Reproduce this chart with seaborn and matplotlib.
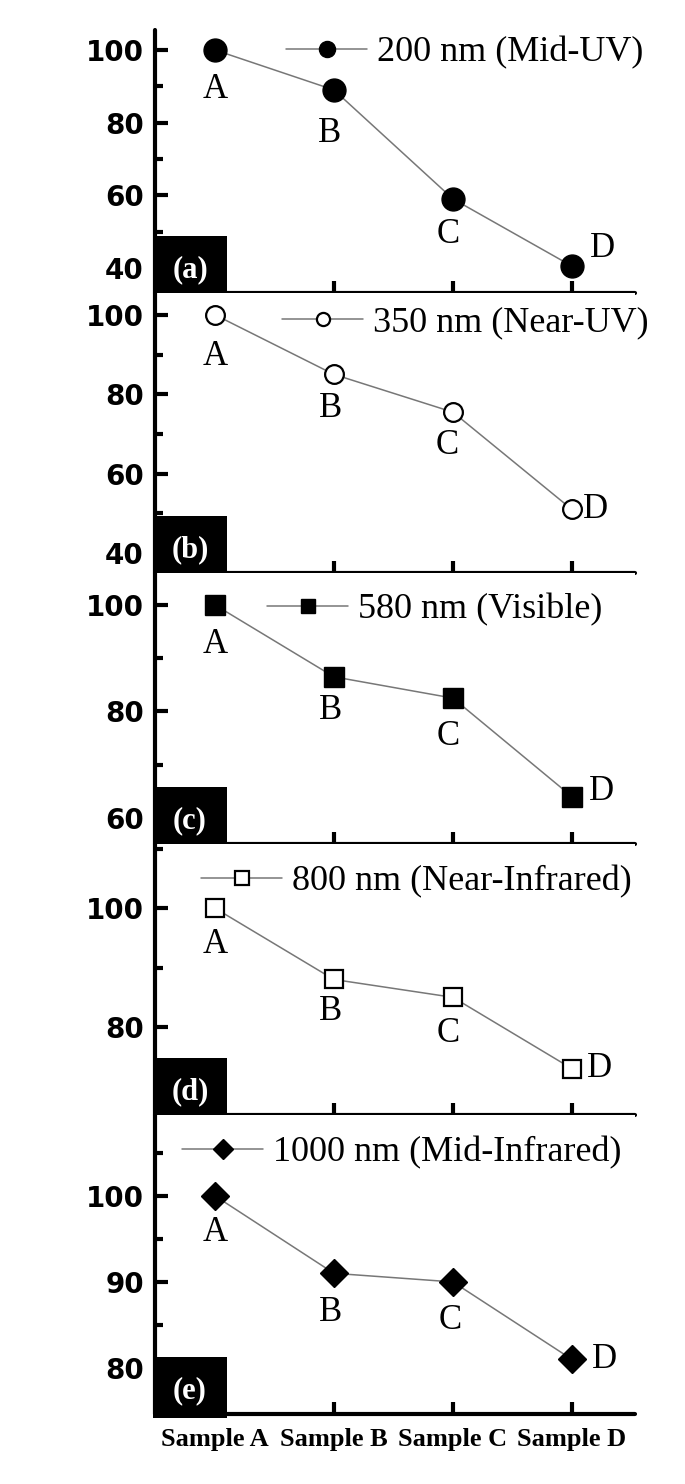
import matplotlib
matplotlib.use("Agg")
import matplotlib.pyplot as plt
import seaborn as sns
import numpy as np
from matplotlib.patches import Rectangle
from matplotlib.ticker import FixedLocator, MultipleLocator

# ---------------- data ----------------
samples = ["Sample A", "Sample B", "Sample C", "Sample D"]
point_labels = ["A", "B", "C", "D"]
panel_tags = ["(a)", "(b)", "(c)", "(d)", "(e)"]
series_names = ["200 nm (Mid-UV)", "350 nm (Near-UV)", "580 nm (Visible)",
                "800 nm (Near-Infrared)", "1000 nm (Mid-Infrared)"]
vals_200 = [100, 89, 59, 40.5]
vals_350 = [100, 85, 75.5, 51]
vals_580 = [100, 86.5, 82.5, 64]
vals_800 = [100, 88, 85, 73]
vals_1000 = [100, 91, 90, 81]
yticks_a = [40, 60, 80, 100]
yticks_b = [40, 60, 80, 100]
yticks_c = [60, 80, 100]
yticks_d = [80, 100]
yticks_e = [80, 90, 100]
series_vals = [vals_200, vals_350, vals_580, vals_800, vals_1000]
series_ticks = [yticks_a, yticks_b, yticks_c, yticks_d, yticks_e]

# ---------------- layout / style ----------------
W_PX, H_PX = 685, 1484
SPINE_L, SPINE_R = 155, 635
panels = [
    # top px, bottom px, ylim, minor step, marker, filled, msize, legend (x px, y px)
    dict(top=30, bot=293, ylim=(33.1, 105.5), minor=10, marker="o", filled=True, ms=16.5, leg=(286, 53)),
    dict(top=293, bot=573, ylim=(35.0, 105.5), minor=10, marker="o", filled=False, ms=13.5, leg=(282, 323)),
    dict(top=573, bot=844, ylim=(55.1, 106.0), minor=10, marker="s", filled=True, ms=14.5, leg=(267, 610)),
    dict(top=844, bot=1115, ylim=(65.2, 110.8), minor=10, marker="s", filled=False, ms=13.5, leg=(201, 882)),
    dict(top=1115, bot=1414, ylim=(74.65, 109.4), minor=5, marker="D", filled=True, ms=14, leg=(182, 1153)),
]
# label offsets in pixels (dx, dy up)
label_offsets = [
    [(0, -40), (-4, -44), (-5, -36), (31, 18)],
    [(0, -42), (-3, -34), (-6, -33), (24, 0)],
    [(0, -40), (-3, -34), (-5, -38), (30, 5)],
    [(0, -36), (-3, -32), (-5, -36), (28, 0)],
    [(0, -37), (-3, -39), (-3, -39), (33, 0)],
]
PX2PT = 72 / 100.0

sns.set_style("ticks")
plt.rcParams["font.family"] = ["DejaVu Sans"]
plt.rcParams["text.color"] = "black"
plt.rcParams["xtick.color"] = "black"
plt.rcParams["ytick.color"] = "black"
plt.rcParams["xtick.labelcolor"] = "black"
plt.rcParams["ytick.labelcolor"] = "black"
SERIF = "Liberation Serif"

fig = plt.figure(figsize=(W_PX / 100, H_PX / 100), dpi=100)
x_lo = -0.504
x_hi = 3.53

for i, p in enumerate(panels):
    left = SPINE_L / W_PX
    width = (SPINE_R - SPINE_L) / W_PX
    h_px = p["bot"] - p["top"]
    ax = fig.add_axes([left, 1 - p["bot"] / H_PX, width, h_px / H_PX])
    vals = series_vals[i]
    face = "black" if p["filled"] else "white"
    mew = 1.0 if p["filled"] else 1.6
    sns.lineplot(x=samples, y=vals, ax=ax, color="#777777", linewidth=1.1,
                 marker=p["marker"], markersize=p["ms"], markerfacecolor=face,
                 markeredgecolor="black", markeredgewidth=mew,
                 label=series_names[i], legend=False, sort=False, zorder=3)
    ax.set_xlim(x_lo, x_hi)
    ax.set_ylim(*p["ylim"])
    ax.set_xlabel("")
    ax.set_ylabel("")
    ax.set_xticks(range(len(samples)))
    ax.yaxis.set_major_locator(FixedLocator(series_ticks[i]))
    ax.yaxis.set_minor_locator(MultipleLocator(p["minor"]))
    for s in ["top", "right"]:
        ax.spines[s].set_visible(False)
    for s in ["left", "bottom"]:
        ax.spines[s].set_linewidth(3)
        ax.spines[s].set_color("black")
        ax.spines[s].set_capstyle("round")
    ax.tick_params(axis="both", which="major", direction="in", length=9, width=3, color="black")
    ax.tick_params(axis="y", which="minor", direction="in", length=5.5, width=3, color="black")
    ax.tick_params(axis="y", which="major", labelsize=20, pad=8, labelcolor="black")
    for t in ax.get_yticklabels():
        t.set_fontfamily("DejaVu Sans")
        t.set_fontweight("bold")
    last = i == len(panels) - 1
    if last:
        ax.set_xticklabels(samples)
        ax.tick_params(axis="x", labelsize=19, pad=10, labelcolor="black")
        for t in ax.get_xticklabels():
            t.set_fontfamily(SERIF)
            t.set_fontweight("bold")
    else:
        ax.tick_params(axis="x", labelbottom=False)

    # point letters
    for j, lab in enumerate(point_labels):
        dx, dy = label_offsets[i][j]
        ax.annotate(lab, xy=(j, vals[j]), xytext=(dx * PX2PT, dy * PX2PT),
                    textcoords="offset points", ha="center", va="center",
                    fontsize=25, family=SERIF, color="black", zorder=4)

    # legend
    lx, ly = p["leg"]
    xf = (lx - SPINE_L) / (SPINE_R - SPINE_L)
    yf = (p["bot"] - ly) / h_px
    leg = ax.legend(loc="center left", bbox_to_anchor=(xf, yf), frameon=False,
                    prop={"family": SERIF, "size": 26}, handlelength=2.25,
                    handletextpad=0.27, borderpad=0, borderaxespad=0, markerscale=0.7)
    for t in leg.get_texts():
        t.set_color("black")

    # black tag box
    box_w = 72 / (SPINE_R - SPINE_L)
    box_h = 57 / h_px
    below = (4 if last else 2) / h_px
    ax.add_patch(Rectangle((-0.005, -below), box_w + 0.005, box_h + below,
                           transform=ax.transAxes, facecolor="black",
                           edgecolor="none", clip_on=False, zorder=6))
    ax.text(box_w / 2 - 0.002, 23 / h_px, panel_tags[i], transform=ax.transAxes,
            ha="center", va="center", color="white", fontsize=22,
            family=SERIF, fontweight="bold", zorder=7)

fig.savefig("out.png", dpi=100)
